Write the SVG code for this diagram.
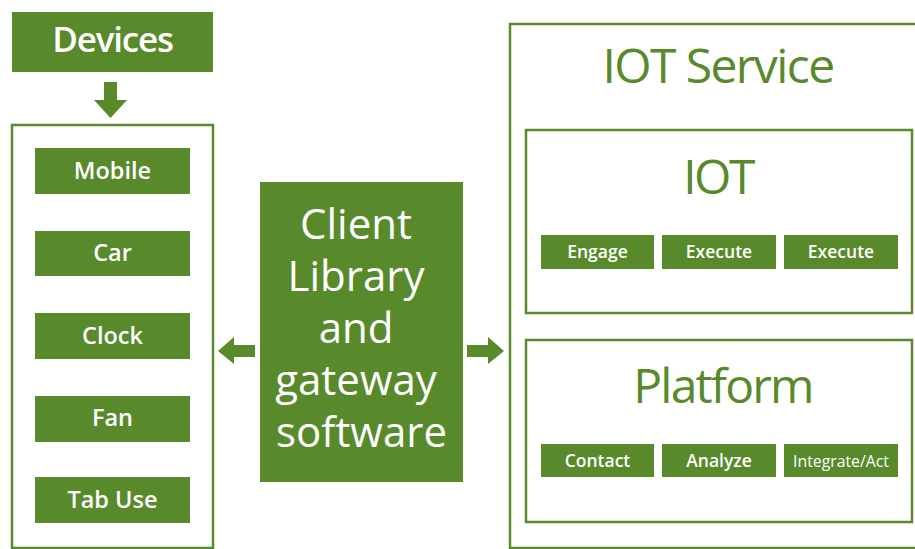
<svg xmlns="http://www.w3.org/2000/svg" width="915" height="549" viewBox="0 0 915 549">
  <style>
    .fill { fill: #588a2c; }
    .frame { fill: #ffffff; stroke: #588a2c; stroke-width: 2.5; }
    .lbl { fill: #ffffff; font-family: "Open Sans", "Noto Sans", sans-serif; text-anchor: middle; font-weight: 600; }
    .ttl { fill: #588a2c; font-family: "Open Sans", "Noto Sans", sans-serif; text-anchor: middle; font-weight: 400; font-size: 48px; }
    .dev { font-size: 23.5px; }
    .btn { font-size: 17.5px; }
    .btn-sm { font-size: 15.8px; font-weight: 400; }
    .big { font-size: 42px; font-weight: 400; }
    .arrow { fill: #588a2c; }
  </style>
  <rect width="915" height="549" fill="#ffffff"/>

  <!-- Devices header -->
  <g id="devices">
    <rect class="fill" x="12" y="12" width="201" height="60"/>
    <text class="lbl" x="112.5" y="52" style="font-size:35px" letter-spacing="-1.2">Devices</text>
  </g>

  <!-- Device list -->
  <g id="device-list">
    <rect class="frame" x="12" y="125" width="201" height="423"/>
  </g>
  <g id="mobile">
    <rect class="fill" x="35" y="148" width="155" height="46"/>
    <text class="lbl dev" x="112.5" y="179">Mobile</text>
  </g>
  <g id="car">
    <rect class="fill" x="35" y="231" width="155" height="45"/>
    <text class="lbl dev" x="112.5" y="261">Car</text>
  </g>
  <g id="clock">
    <rect class="fill" x="35" y="313" width="155" height="46"/>
    <text class="lbl dev" x="112.5" y="344">Clock</text>
  </g>
  <g id="fan">
    <rect class="fill" x="35" y="396" width="155" height="46"/>
    <text class="lbl dev" x="112.5" y="426">Fan</text>
  </g>
  <g id="tab-use">
    <rect class="fill" x="35" y="477" width="155" height="46"/>
    <text class="lbl dev" x="112.5" y="508">Tab Use</text>
  </g>

  <!-- Client library -->
  <g id="client">
    <rect class="fill" x="260" y="182" width="203" height="300"/>
    <text class="lbl big">
      <tspan x="361.5" y="239">Client</tspan>
      <tspan x="361.5" y="291">Library</tspan>
      <tspan x="361.5" y="343">and</tspan>
      <tspan x="361.5" y="395">gateway</tspan>
      <tspan x="361.5" y="447">software</tspan>
    </text>
  </g>

  <!-- IOT service -->
  <g id="iot-service">
    <rect class="frame" x="510" y="24" width="410" height="524"/>
    <text class="ttl" x="718" y="83" letter-spacing="-1.6">IOT Service</text>
  </g>
  <g id="iot">
    <rect class="frame" x="526" y="130" width="386" height="183"/>
    <text class="ttl" x="718" y="194" letter-spacing="-2.5">IOT</text>
  </g>
  <g id="engage">
    <rect class="fill" x="541" y="235" width="113" height="34"/>
    <text class="lbl btn" x="597.5" y="258">Engage</text>
  </g>
  <g id="execute-1">
    <rect class="fill" x="662" y="235" width="114" height="34"/>
    <text class="lbl btn" x="719" y="258">Execute</text>
  </g>
  <g id="execute-2">
    <rect class="fill" x="784" y="235" width="114" height="34"/>
    <text class="lbl btn" x="841" y="258">Execute</text>
  </g>
  <g id="platform">
    <rect class="frame" x="526" y="340" width="386" height="182"/>
    <text class="ttl" x="723" y="403" letter-spacing="-1.8">Platform</text>
  </g>
  <g id="contact">
    <rect class="fill" x="541" y="444" width="113" height="33"/>
    <text class="lbl btn" x="597.5" y="467">Contact</text>
  </g>
  <g id="analyze">
    <rect class="fill" x="662" y="444" width="114" height="33"/>
    <text class="lbl btn" x="719" y="467">Analyze</text>
  </g>
  <g id="integrate">
    <rect class="fill" x="784" y="444" width="114" height="33"/>
    <text class="lbl btn-sm" x="841" y="466.5">Integrate/Act</text>
  </g>

  <!-- Connectors -->
  <g id="connectors">
    <polygon class="arrow" points="104,82 117,82 117,100 127,100 110.5,118 94,100 104,100"/>
    <polygon class="arrow" points="255,345 234,345 234,337 218,351 234,364 234,357 255,357"/>
    <polygon class="arrow" points="467,345 488,345 488,337 504,351 488,364 488,357 467,357"/>
  </g>
</svg>
